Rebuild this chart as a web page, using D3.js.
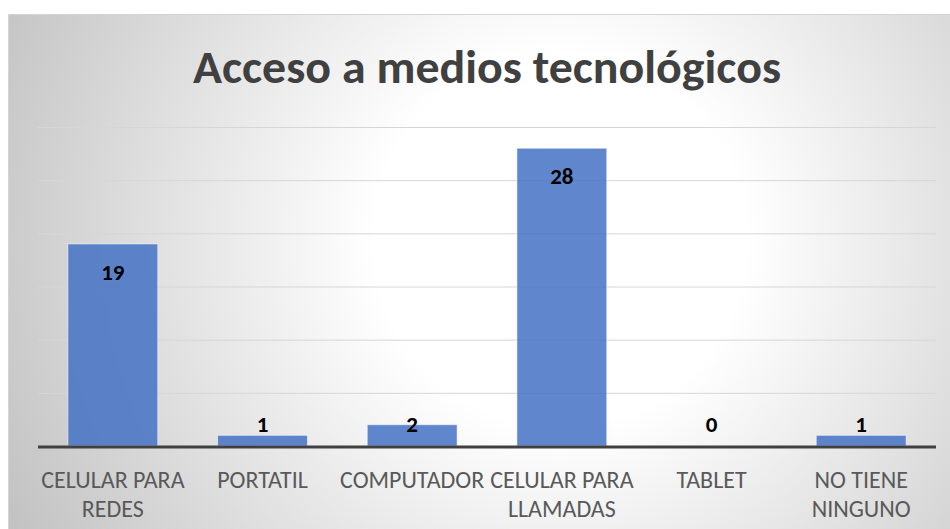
<!DOCTYPE html>
<html>
<head>
<meta charset="utf-8">
<script src="https://cdn.jsdelivr.net/npm/d3@7"></script>
<style>
  html, body { margin: 0; padding: 0; background: #ffffff; }
  svg { display: block; }
</style>
</head>
<body>
<svg id="chart" width="950" height="529"></svg>
<script>
const title = "Acceso a medios tecnológicos";
const categories = [
  ["CELULAR PARA", "REDES"],
  ["PORTATIL"],
  ["COMPUTADOR"],
  ["CELULAR PARA", "LLAMADAS"],
  ["TABLET"],
  ["NO TIENE", "NINGUNO"]
];
const values = [19, 1, 2, 28, 0, 1];
const yTicks = [0, 5, 10, 15, 20, 25, 30];

const W = 950, H = 529;
const svg = d3.select("#chart");
const font = "Carlito, Lato, 'Open Sans', sans-serif";

// background with radial gradient
const defs = svg.append("defs");
const grad = defs.append("radialGradient")
  .attr("id", "bg")
  .attr("gradientUnits", "userSpaceOnUse")
  .attr("cx", 560).attr("cy", 240).attr("r", 620);
grad.append("stop").attr("offset", 0).attr("stop-color", "#ffffff");
grad.append("stop").attr("offset", 0.3).attr("stop-color", "#ffffff");
grad.append("stop").attr("offset", 1).attr("stop-color", "#c2c2c2");

svg.append("rect")
  .attr("x", 8.5).attr("y", 14.5)
  .attr("width", 960).attr("height", 530)
  .attr("fill", "url(#bg)")
  .attr("stroke", "#d4d4d4").attr("stroke-width", 1);

const plot = { left: 38, right: 936, top: 127, bottom: 446 };

const x = d3.scaleBand()
  .domain(d3.range(categories.length))
  .range([plot.left, plot.right])
  .paddingInner(0.4)
  .paddingOuter(0.2);

const y = d3.scaleLinear()
  .domain([0, 30])
  .range([plot.bottom, plot.top]);

// gridlines
const gridAxis = d3.axisLeft(y)
  .tickValues(yTicks.filter(d => d > 0))
  .tickSize(-(plot.right - plot.left))
  .tickFormat("");
const g = svg.append("g")
  .attr("transform", `translate(${plot.left},0)`)
  .call(gridAxis);
g.select(".domain").remove();
g.selectAll(".tick line").attr("stroke", "#d6d6d6").attr("stroke-width", 1);

// bars
svg.append("g").selectAll("rect")
  .data(values)
  .join("rect")
  .attr("x", (d, i) => x(i))
  .attr("width", x.bandwidth())
  .attr("y", d => y(d))
  .attr("height", d => y(0) - y(d))
  .attr("fill", "#4472C4")
  .attr("fill-opacity", 0.85)
  .attr("stroke", "#ffffff")
  .attr("stroke-opacity", 0.5)
  .attr("stroke-width", 1);

// baseline
svg.append("line")
  .attr("x1", plot.left).attr("x2", plot.right)
  .attr("y1", y(0) + 1).attr("y2", y(0) + 1)
  .attr("stroke", "#404040").attr("stroke-width", 3);

// data labels
svg.append("g").selectAll("text")
  .data(values)
  .join("text")
  .attr("x", (d, i) => x(i) + x.bandwidth() / 2)
  .attr("y", d => Math.min(y(d) + 36, y(0) - 14))
  .attr("text-anchor", "middle")
  .attr("font-family", font)
  .attr("font-weight", "bold")
  .attr("font-size", 23)
  .attr("fill", "#000000")
  .text(d => d);

// category labels
const xAxis = d3.axisBottom(x).tickSize(0).tickFormat("");
const xg = svg.append("g")
  .attr("transform", `translate(0,${plot.bottom})`)
  .call(xAxis);
xg.select(".domain").remove();
xg.selectAll(".tick").each(function(i) {
  const t = d3.select(this).append("text")
    .attr("text-anchor", "middle")
    .attr("font-family", font)
    .attr("font-weight", 300)
    .attr("font-size", 24)
    .attr("fill", "#595959");
  categories[i].forEach((line, k) => {
    t.append("tspan").attr("x", 0).attr("y", 42 + k * 29).text(line);
  });
});

// title
svg.append("text")
  .attr("x", 487)
  .attr("y", 83)
  .attr("text-anchor", "middle")
  .attr("font-family", font)
  .attr("font-weight", "bold")
  .attr("font-size", 46)
  .attr("fill", "#404040")
  .attr("textLength", 588)
  .attr("lengthAdjust", "spacingAndGlyphs")
  .text(title);
</script>
</body>
</html>
